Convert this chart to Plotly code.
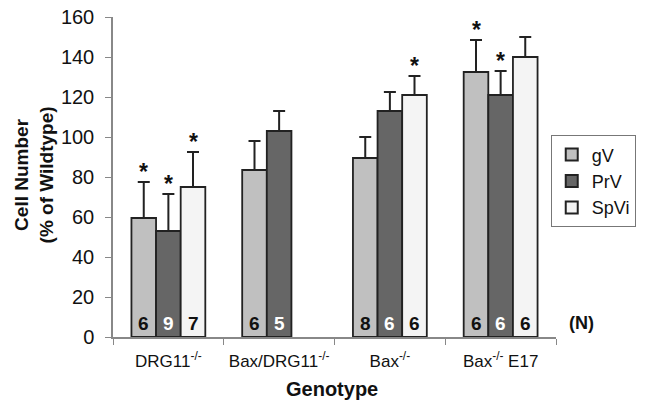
import plotly.graph_objects as go

categories = ["DRG11<sup>-/-</sup>", "Bax/DRG11<sup>-/-</sup>", "Bax<sup>-/-</sup>", "Bax<sup>-/-</sup> E17"]
series_names = ["gV", "PrV", "SpVi"]
gV = [59.5, 83.5, 89.5, 132.5]
PrV = [53, 103, 113, 121]
SpVi = [75, None, 121, 140]
gV_err = [18, 14.5, 10.5, 16]
PrV_err = [18.5, 10, 9.5, 12]
SpVi_err = [17.5, None, 9.5, 10]
gV_n = ["6", "6", "8", "6"]
PrV_n = ["9", "5", "6", "6"]
SpVi_n = ["7", "", "6", "6"]
gV_sig = [True, False, False, True]
PrV_sig = [True, False, False, True]
SpVi_sig = [True, False, True, False]
y_ticks = [0, 20, 40, 60, 80, 100, 120, 140, 160]

colors = ["#c0c0c0", "#666666", "#f4f4f4"]
n_colors = ["#111111", "#ffffff", "#111111"]
FONT = "Liberation Sans, Arial, sans-serif"

values = [gV, PrV, SpVi]
errs = [gV_err, PrV_err, SpVi_err]
ns = [gV_n, PrV_n, SpVi_n]
sigs = [gV_sig, PrV_sig, SpVi_sig]

fig = go.Figure()
for name, v, e, c in zip(series_names, values, errs, colors):
    fig.add_trace(go.Bar(
        name=name, x=categories, y=v,
        marker=dict(color=c, line=dict(color="#222222", width=1.8)),
        error_y=dict(type="data", array=e, arrayminus=[0] * len(e), symmetric=False,
                     thickness=2, width=6, color="#222222"),
    ))

bargap = 0.333
bw = (1 - bargap) / 3
annotations = []
for s in range(3):
    off = (s - 1) * bw
    for i in range(len(categories)):
        if values[s][i] is None:
            continue
        annotations.append(dict(x=i + off, y=7, xref="x", yref="y", text="<b>%s</b>" % ns[s][i],
                                showarrow=False, font=dict(family=FONT, size=19, color=n_colors[s]),
                                yanchor="middle"))
        if sigs[s][i]:
            annotations.append(dict(x=i + off, y=values[s][i] + errs[s][i], xref="x", yref="y",
                                    text="<b>*</b>", showarrow=False, yanchor="bottom", yshift=-5,
                                    font=dict(family=FONT, size=23, color="#111111")))
annotations.append(dict(x=1.025, y=7, xref="paper", yref="y", text="<b>(N)</b>", showarrow=False,
                        xanchor="left", yanchor="middle", font=dict(family=FONT, size=18, color="#111111")))
annotations.append(dict(x=0.494, y=-0.1625, xref="paper", yref="paper", text="<b>Genotype</b>",
                        showarrow=False, xanchor="center", yanchor="middle",
                        font=dict(family=FONT, size=20, color="#111111")))
annotations.append(dict(x=-0.1775, y=0.506, xref="paper", yref="paper",
                        text="<b>Cell Number<br>(% of Wildtype)</b>", textangle=-90,
                        showarrow=False, xanchor="center", yanchor="middle",
                        font=dict(family=FONT, size=19, color="#111111")))

fig.update_layout(
    width=648, height=403,
    margin=dict(l=113, r=90, t=17, b=66),
    paper_bgcolor="white", plot_bgcolor="white",
    barmode="group", bargap=bargap, bargroupgap=0,
    font=dict(family=FONT, size=16, color="#111111"),
    legend=dict(x=1.18, y=0.63, xanchor="right", yanchor="top",
                bordercolor="#777777", borderwidth=1, bgcolor="white",
                font=dict(size=18), tracegroupgap=0, itemsizing="constant"),
    annotations=annotations,
    showlegend=True,
)
fig.update_yaxes(range=[0, 160], tickvals=y_ticks, showgrid=False, zeroline=False,
                 showline=True, linecolor="#888888", linewidth=1.5,
                 ticks="outside", ticklen=6, tickcolor="#888888",
                 tickfont=dict(size=20), ticklabelstandoff=7, automargin=False)
fig.update_xaxes(showgrid=False, showline=True, linecolor="#888888", linewidth=1.5,
                 ticks="outside", tickson="boundaries", ticklen=6, tickcolor="#888888",
                 tickangle=0, tickfont=dict(size=17), ticklabelstandoff=8, automargin=False)

fig.write_html("out.html", config={"displayModeBar": False},
               post_script="document.body.style.margin='0';")
